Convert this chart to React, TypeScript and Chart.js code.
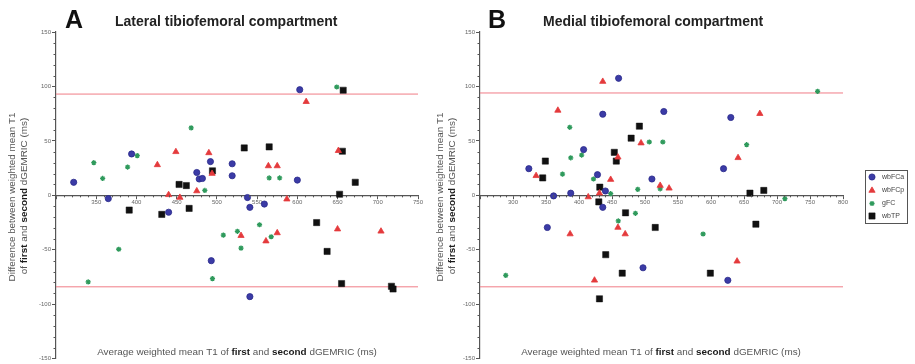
import React, { useEffect, useRef } from 'react';
import { Chart, registerables } from 'chart.js';
import { drawPoint } from 'chart.js/helpers';

Chart.register(...registerables);

// ---------- data ----------
const seriesNames = ['wbFCa', 'wbFCp', 'gFC', 'wbTP'];
const yTicks = [-150, -100, -50, 0, 50, 100, 150];

// Lateral tibiofemoral compartment (A): [average, difference]
const latWbFCa = [[322, 12], [365, -3], [394, 38], [475, 21], [478, 15], [482, 15.5], [492, 31], [519, 29], [519, 18], [603, 97], [600, 14], [538, -2], [541, -11], [559, -8], [440, -15.5], [493, -60], [541, -93]];
const latWbFCp = [[426, 28], [449, 40], [440, 0.5], [454, -2], [475, 4], [490, 39], [494, 20], [611, 86], [651, 41], [564, 27], [575, 27], [587, -3.5], [530, -37], [561, -42], [575, -34.5], [650, -31], [704, -33]];
const latGFC = [[347, 30], [358, 15.5], [389, 26], [401, 36.5], [468, 62], [485, 4.5], [565, 16], [578, 16], [649, 99.5], [553, -27], [508, -36.5], [525.5, -33], [567.5, -38], [530, -48.5], [378, -49.5], [340, -79.5], [494.5, -76.5]];
const latWbTP = [[453, 10], [462, 9], [494.5, 22.5], [534, 43.5], [565, 44.5], [657, 96.5], [656, 40.5], [672, 12], [652.5, 1], [391, -13.5], [431.5, -17.5], [465.5, -12], [624, -25], [637, -51.5], [655, -81], [717, -83.5], [719, -86]];
const latLimits = [93, -84];
const latXRange = [300, 750];

// Medial tibiofemoral compartment (B)
const medWbFCa = [[460, 107.5], [436, 74.5], [528.5, 77], [630, 71.5], [407, 42], [324, 24.5], [428, 19], [510.5, 15], [619, 24.5], [440, 4], [387.5, 2], [361.5, -0.5], [436, -11], [352, -29.5], [497, -66.5], [625.5, -78]];
const medWbFCp = [[436, 104.5], [368, 78], [494, 48], [459, 35], [335, 18], [448, 14.5], [414, -1.5], [431, 2], [459, -29.5], [470, -35.5], [386.5, -35.5], [423.5, -78], [674, 75], [641, 34.5], [523, 9], [536.5, 6.5], [639.5, -60.5]];
const medGFC = [[761.5, 95.5], [386, 62.5], [506.5, 49], [527, 49], [654, 46.5], [404, 37], [387.5, 34.5], [375, 19.5], [422, 15], [489, 5.5], [448, 1.5], [523, 6], [485.5, -16.5], [459.5, -23.5], [588, -35.5], [289, -73.5], [712, -3]];
const medWbTP = [[491.5, 63.5], [479, 52.5], [453.5, 39.5], [456.5, 31.5], [349, 31.5], [345, 16], [431.5, 7.5], [430, -6], [470.5, -16], [515.5, -29.5], [440.5, -54.5], [465.5, -71.5], [431, -95], [599, -71.5], [659, 2], [680, 4.5], [668, -26.5]];
const medLimits = [94, -84];
const medXRange = [250, 800];

// ---------- styles ----------
const FONT = "'Liberation Sans', Arial, sans-serif";
const AXIS = '#555';
const LIMIT = '#f07c86';
const seriesStyles = [
  { pointStyle: 'circle', radius: 3.1, fill: '#3b3ba6', stroke: '#2a2a8a', bw: 0.8 },
  { pointStyle: 'triangle', radius: 3.6, fill: '#e43a3c', stroke: '#e43a3c', bw: 0.8 },
  { pointStyle: 'star', radius: 2.6, fill: '#2f9a5c', stroke: '#2f9a5c', bw: 1.3 },
  { pointStyle: 'rect', radius: 4.4, fill: '#111', stroke: '#111', bw: 0.5 },
];

type Run = { t: string; b?: boolean };
const xTitleRuns: Run[] = [
  { t: 'Average weighted mean T1 of ' }, { t: 'first', b: true }, { t: ' and ' }, { t: 'second', b: true }, { t: ' dGEMRIC (ms)' },
];
const yTitle1: Run[] = [{ t: 'Difference between weighted mean T1' }];
const yTitle2: Run[] = [
  { t: 'of ' }, { t: 'first', b: true }, { t: ' and ' }, { t: 'second', b: true }, { t: ' dGEMRIC (ms)' },
];

function drawRuns(ctx: CanvasRenderingContext2D, runs: Run[], cx: number, cy: number, size: number, rotate: boolean) {
  ctx.save();
  ctx.translate(cx, cy);
  if (rotate) ctx.rotate(-Math.PI / 2);
  const fonts = runs.map((r) => `${r.b ? 'bold ' : ''}${size}px ${FONT}`);
  const widths = runs.map((r, i) => { ctx.font = fonts[i]; return ctx.measureText(r.t).width; });
  const total = widths.reduce((a, b) => a + b, 0);
  let x = -total / 2;
  ctx.textBaseline = 'middle';
  ctx.textAlign = 'left';
  runs.forEach((r, i) => {
    ctx.font = fonts[i];
    ctx.fillStyle = r.b ? '#1a1a1a' : '#555';
    ctx.fillText(r.t, x, 0);
    x += widths[i];
  });
  ctx.restore();
}

interface PanelCfg {
  width: number;
  letter: string;
  letterX: number;
  title: string;
  titleX: number;
  xRange: number[];
  limits: number[];
  series: number[][][];
  yAxisWidth: number;
  padRight: number;
  yTitleX: number[];
  xTitleX: number;
  legend?: { x: number; y: number; w: number; h: number; symX: number; textX: number; rowY: number[] };
}

function makeChart(canvas: HTMLCanvasElement, cfg: PanelCfg) {
  const [xMin, xMax] = cfg.xRange;
  const datasets: any[] = cfg.series.map((arr, i) => {
    const st = seriesStyles[i];
    return {
      label: seriesNames[i],
      data: arr.map(([x, y]) => ({ x, y })),
      pointStyle: st.pointStyle,
      pointRadius: st.radius,
      backgroundColor: st.fill,
      borderColor: st.stroke,
      borderWidth: st.bw,
      showLine: false,
      order: 1,
    };
  });
  cfg.limits.forEach((v) => {
    datasets.push({
      label: 'limit',
      data: [{ x: xMin, y: v }, { x: xMax, y: v }],
      showLine: true,
      borderColor: LIMIT,
      borderWidth: 1,
      pointRadius: 0,
      order: 5,
    });
  });

  const decor = {
    id: 'decor',
    afterDraw(chart: any) {
      const ctx: CanvasRenderingContext2D = chart.ctx;
      const xs = chart.scales.x;
      const ys = chart.scales.y;
      const left = chart.chartArea.left;
      const y0 = ys.getPixelForValue(0);
      ctx.save();
      ctx.strokeStyle = AXIS;
      ctx.lineWidth = 1;
      // minor ticks on y
      for (let v = -150; v <= 150; v += 10) {
        if (yTicks.includes(v)) continue;
        const py = Math.round(ys.getPixelForValue(v)) + 0.5;
        ctx.beginPath();
        ctx.moveTo(left - 2.5, py);
        ctx.lineTo(left, py);
        ctx.stroke();
      }
      // minor ticks on x
      for (let v = xMin; v <= xMax; v += 10) {
        if (v % 50 === 0) continue;
        const px = Math.round(xs.getPixelForValue(v)) + 0.5;
        ctx.beginPath();
        ctx.moveTo(px, y0);
        ctx.lineTo(px, y0 + 2);
        ctx.stroke();
      }
      // letter + title
      ctx.fillStyle = '#111';
      ctx.textBaseline = 'alphabetic';
      ctx.textAlign = 'left';
      ctx.font = `bold 25px ${FONT}`;
      ctx.fillText(cfg.letter, cfg.letterX, 28);
      ctx.font = `bold 14px ${FONT}`;
      ctx.fillStyle = '#222';
      ctx.fillText(cfg.title, cfg.titleX, 26);
      // axis titles
      drawRuns(ctx, xTitleRuns, cfg.xTitleX, 352, 9.9, false);
      drawRuns(ctx, yTitle1, cfg.yTitleX[0], 197, 9.9, true);
      drawRuns(ctx, yTitle2, cfg.yTitleX[1], 196, 9.9, true);
      // legend
      if (cfg.legend) {
        const L = cfg.legend;
        ctx.strokeStyle = '#555';
        ctx.lineWidth = 1;
        ctx.strokeRect(L.x + 0.5, L.y + 0.5, L.w, L.h);
        chart.data.datasets.forEach((ds: any, i: number) => {
          if (i >= seriesNames.length) return;
          const st = seriesStyles[i];
          ctx.fillStyle = st.fill;
          ctx.strokeStyle = st.stroke;
          ctx.lineWidth = st.bw;
          drawPoint(ctx, { pointStyle: st.pointStyle as any, radius: st.radius, rotation: 0, borderWidth: st.bw }, L.symX, L.rowY[i]);
          ctx.fillStyle = '#444';
          ctx.font = `7px ${FONT}`;
          ctx.textBaseline = 'middle';
          ctx.fillText(ds.label, L.textX, L.rowY[i]);
        });
      }
      ctx.restore();
    },
  };

  return new Chart(canvas, {
    type: 'scatter',
    data: { datasets },
    plugins: [decor],
    options: {
      animation: false,
      responsive: false,
      events: [],
      layout: { padding: { left: 0, right: cfg.padRight, top: 32, bottom: 2 } },
      plugins: { legend: { display: false }, tooltip: { enabled: false } },
      scales: {
        x: {
          type: 'linear',
          position: { y: 0 } as any,
          min: xMin,
          max: xMax,
          ticks: {
            stepSize: 50,
            autoSkip: false,
            maxRotation: 0,
            padding: 0,
            color: '#666',
            font: { size: 6, family: FONT },
            callback: (v: any) => (v === xMin ? '' : String(v)),
          },
          grid: { drawOnChartArea: false, tickLength: 3, color: AXIS, tickColor: AXIS },
          border: { display: true, color: AXIS, width: 1.2 },
        },
        y: {
          type: 'linear',
          position: 'left',
          min: -150,
          max: 150,
          afterBuildTicks: (s: any) => { s.ticks = yTicks.map((v) => ({ value: v })); },
          afterFit: (s: any) => { s.width = cfg.yAxisWidth; },
          ticks: { padding: 1, color: '#666', font: { size: 6, family: FONT } },
          grid: { drawOnChartArea: false, tickLength: 4, color: AXIS, tickColor: AXIS },
          border: { display: true, color: AXIS, width: 1.2 },
        },
      },
    } as any,
  });
}

const panelA: PanelCfg = {
  width: 430,
  letter: 'A',
  letterX: 65,
  title: 'Lateral tibiofemoral compartment',
  titleX: 115,
  xRange: latXRange,
  limits: latLimits,
  series: [latWbFCa, latWbFCp, latGFC, latWbTP],
  yAxisWidth: 56,
  padRight: 12,
  yTitleX: [12, 24],
  xTitleX: 237,
};

const panelB: PanelCfg = {
  width: 485,
  letter: 'B',
  letterX: 58,
  title: 'Medial tibiofemoral compartment',
  titleX: 113,
  xRange: medXRange,
  limits: medLimits,
  series: [medWbFCa, medWbFCp, medGFC, medWbTP],
  yAxisWidth: 50,
  padRight: 72,
  yTitleX: [10, 22],
  xTitleX: 231,
  legend: { x: 435, y: 170, w: 42, h: 53, symX: 442, textX: 452, rowY: [177, 190.5, 203.5, 216] },
};

function Panel({ cfg, left }: { cfg: PanelCfg; left: number }) {
  const ref = useRef<HTMLCanvasElement>(null);
  useEffect(() => {
    if (!ref.current) return;
    const chart = makeChart(ref.current, cfg);
    return () => chart.destroy();
  }, [cfg]);
  return (
    <canvas
      ref={ref}
      width={cfg.width}
      height={364}
      style={{ position: 'absolute', left, top: 0, width: cfg.width, height: 364 }}
    />
  );
}

export default function App() {
  return (
    <div style={{ position: 'fixed', left: 0, top: 0, width: 915, height: 364, background: '#fff', overflow: 'hidden' }}>
      <Panel cfg={panelA} left={0} />
      <Panel cfg={panelB} left={430} />
    </div>
  );
}
